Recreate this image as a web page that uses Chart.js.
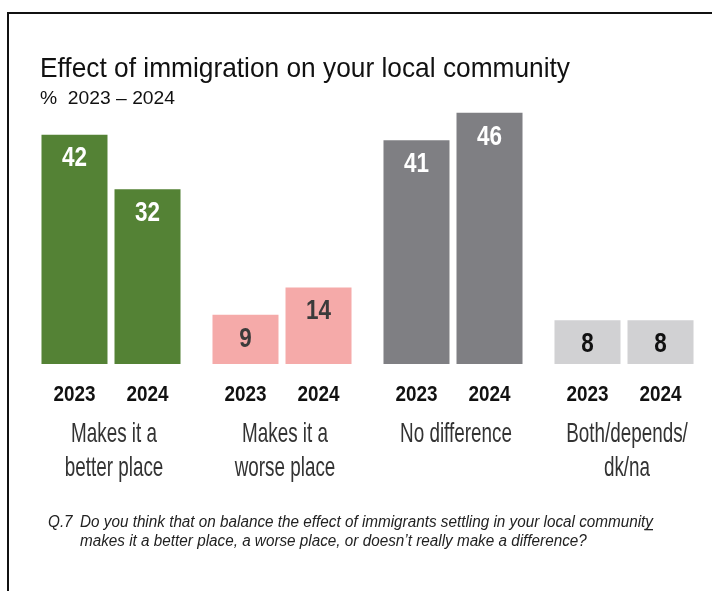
<!DOCTYPE html>
<html>
<head>
<meta charset="utf-8">
<script src="https://cdn.jsdelivr.net/npm/chart.js@4"></script>
<style>
  html, body { margin: 0; padding: 0; background: #fff; overflow: hidden; }
  canvas { display: block; }
</style>
</head>
<body>
<canvas id="c" width="712" height="591"></canvas>
<script>
// Survey answers, percent of respondents
const categories = [
  ["Makes it a", "better place"],
  ["Makes it a", "worse place"],
  ["No difference"],
  ["Both/depends/", "dk/na"]
];
const years = ["2023", "2024"];
const values2023 = [42, 9, 41, 8];
const values2024 = [32, 14, 46, 8];

const titleText = "Effect of immigration on your local community";
const subtitleText = "%  2023 \u2013 2024";
const questionNo = "Q.7";
const questionLines = [
  "Do you think that on balance the effect of immigrants settling in your local community",
  "makes it a better place, a worse place, or doesn\u2019t really make a difference?"
];

// colours per answer category
const barColors = ["#548235", "#F5AAA9", "#7F7F83", "#D1D1D3"];
const valueColors = ["#ffffff", "#3b3b3b", "#ffffff", "#111111"];

const NARROW = '"Liberation Sans Narrow", "Liberation Sans", Arial, sans-serif';
const SANS = '"Liberation Sans", Arial, sans-serif';

// text style: font plus a horizontal squeeze derived from a sample string's intended width
function makeStyle(ctx, font, sample, width) {
  ctx.save();
  ctx.font = font;
  const w = ctx.measureText(sample).width;
  ctx.restore();
  return { font: font, sx: width / w };
}

function drawText(ctx, style, text, x, y, align, color) {
  ctx.save();
  ctx.font = style.font;
  ctx.fillStyle = color;
  ctx.textBaseline = "alphabetic";
  const w = ctx.measureText(text).width * style.sx;
  let left = x;
  if (align === "center") left = x - w / 2;
  else if (align === "right") left = x - w;
  ctx.translate(left, y);
  ctx.scale(style.sx, 1);
  ctx.textAlign = "left";
  ctx.fillText(text, 0, 0);
  ctx.restore();
  return { left: left, width: w };
}

const decorations = {
  id: "decorations",
  afterDraw(chart) {
    const ctx = chart.ctx;
    const xs = chart.scales.x;

    // frame lines
    ctx.save();
    ctx.fillStyle = "#111";
    ctx.fillRect(7, 12, 712 - 7, 2);
    ctx.fillRect(7, 12, 2, 591 - 12);
    ctx.restore();

    const sTitle = makeStyle(ctx, "28px " + NARROW, titleText, 530);
    const sSub = makeStyle(ctx, "19px " + NARROW, subtitleText, 135);
    const sValue = makeStyle(ctx, "bold 27px " + NARROW, "42", 25);
    const sYear = makeStyle(ctx, "bold 22px " + NARROW, "2023", 42);
    const sCat = makeStyle(ctx, "28px " + NARROW, "Makes it a", 86);
    const sNote = makeStyle(ctx, "italic 16px " + SANS, questionLines[0], 573);

    drawText(ctx, sTitle, titleText, 40, 77, "left", "#111");
    drawText(ctx, sSub, subtitleText, 40, 104, "left", "#111");

    // values inside bars and year labels below them
    const digitHalf = 27 * 0.716 / 2;
    chart.data.datasets.forEach((ds, di) => {
      const meta = chart.getDatasetMeta(di);
      meta.data.forEach((bar, j) => {
        const mid = (bar.y + bar.base) / 2;
        const centre = Math.min(bar.y + 22, mid);
        drawText(ctx, sValue, String(ds.data[j]), bar.x, centre + digitHalf, "center", valueColors[j]);
        drawText(ctx, sYear, ds.label, bar.x, 401, "center", "#111");
      });
    });

    // answer category labels
    categories.forEach((lines, j) => {
      const cx = xs.getPixelForValue(j) + 3;
      lines.forEach((line, k) => {
        drawText(ctx, sCat, line, cx, 442 + k * 34, "center", "#333");
      });
    });

    // question wording
    drawText(ctx, sNote, questionNo, 48, 527, "left", "#222");
    const l1 = drawText(ctx, sNote, questionLines[0], 80, 527, "left", "#222");
    drawText(ctx, sNote, questionLines[1], 80, 546, "left", "#222");
    // stray underline under the final letter of the first line
    ctx.save();
    ctx.font = sNote.font;
    const yw = ctx.measureText("y").width * sNote.sx;
    ctx.fillStyle = "#222";
    ctx.fillRect(l1.left + l1.width - yw - 1, 529, yw + 1, 1.3);
    ctx.restore();
  }
};

new Chart(document.getElementById("c"), {
  type: "bar",
  data: {
    labels: categories,
    datasets: [
      { label: years[0], data: values2023, backgroundColor: barColors, borderWidth: 0 },
      { label: years[1], data: values2024, backgroundColor: barColors, borderWidth: 0 }
    ]
  },
  options: {
    responsive: false,
    animation: false,
    devicePixelRatio: 1,
    layout: { padding: { left: 25.5, right: 2.5, top: 91, bottom: 227 } },
    categoryPercentage: 0.854,
    barPercentage: 0.904,
    scales: {
      x: { display: false },
      y: { display: false, min: 0, max: 50 }
    },
    plugins: {
      legend: { display: false },
      tooltip: { enabled: false }
    }
  },
  plugins: [decorations]
});
</script>
</body>
</html>
